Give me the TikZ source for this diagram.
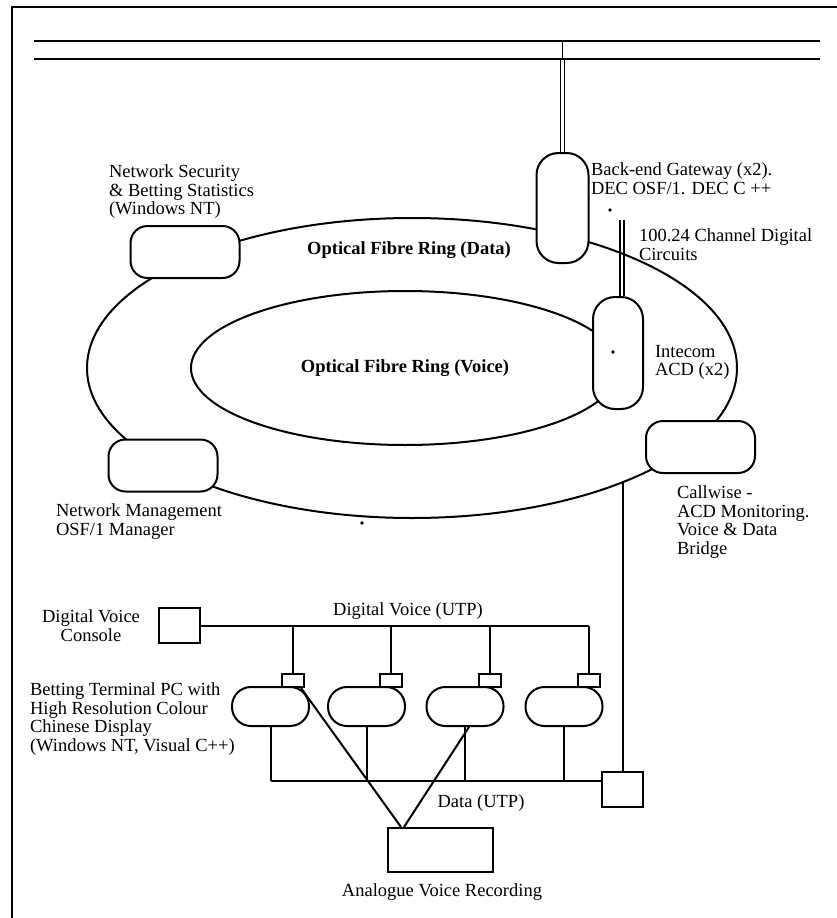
\documentclass[tikz,border=0pt]{standalone}
\usepackage{fontspec}
\setmainfont{Liberation Serif}
\usetikzlibrary{shapes.geometric}
\newcommand{\lblsize}{\fontsize{18.5}{18.5}\selectfont}
\tikzset{
  ring/.style={draw, ellipse, inner sep=0pt},
  tallbox/.style={draw, fill=white, rounded corners=22pt, minimum width=52pt, minimum height=110pt},
  ringbox/.style={draw, fill=white, rounded corners=17pt, minimum width=109pt, minimum height=52pt},
  term/.style={draw, fill=white, rounded corners=19pt, minimum width=77pt, minimum height=39pt},
  plug/.style={draw, fill=white, minimum width=22pt, minimum height=13pt, inner sep=0pt},
  unit/.style={draw, fill=white, minimum width=41pt, minimum height=35pt, inner sep=0pt},
  lbl/.style={align=left, anchor=north west, inner sep=0pt, font=\lblsize},
  clbl/.style={align=center, anchor=north, inner sep=0pt, font=\lblsize},
  dbl/.style={line width=1.2pt},
  bus/.style={line width=2.6pt}
}
\begin{document}
\begin{tikzpicture}[x=1pt, y=-1pt, line width=2pt]
  \useasboundingbox (0,0) rectangle (837,918);
  \draw[bus] (12,918) -- (12,7) -- (837,7);
  \coordinate (b1w) at (34,41);
  \coordinate (b1e) at (820,41);
  \coordinate (b2w) at (34,59);
  \coordinate (b2e) at (820,59);
  \draw[bus] (b1w) -- (b1e);
  \draw[bus] (b2w) -- (b2e);

  \node[ring, minimum width=650pt, minimum height=300pt] (dataring) at (412,368) {};
  \node[ring, minimum width=428pt, minimum height=154pt, font=\lblsize\bfseries] (voicering) at (405,368) {Optical Fibre Ring (Voice)};
  \node[clbl, font=\lblsize\bfseries] (datalbl) at (409,241) {Optical Fibre Ring (Data)};

  \node[tallbox] (gw) at (562.5,208) {};
  \node[tallbox, minimum width=50pt, minimum height=112pt] (acd) at (618,353) {};
  \node[ringbox] (nsec) at (185,252) {};
  \node[ringbox] (nmgmt) at (163,465.5) {};
  \node[ringbox] (cw) at (700.5,447) {};

  \draw[dbl] (gw.north |- b1w) -- (gw.north |- b2w);
  \draw[dbl] ([xshift=-2pt]gw.north) -- ([xshift=-2pt]gw.north |- b2w);
  \draw[dbl] ([xshift=2pt]gw.north) -- ([xshift=2pt]gw.north |- b2w);
  \coordinate (dc) at (622,220);
  \draw[dbl] ([xshift=2pt]acd.north) -- ([xshift=2pt]acd.north |- dc);
  \draw[dbl] ([xshift=6pt]acd.north) -- ([xshift=6pt]acd.north |- dc);
  \fill (610,210) circle (1.8pt);
  \fill (613,352) circle (1.8pt);
  \fill (362,523) circle (1.8pt);

  \node[lbl] (nseclbl) at (108,164) {Network Security\\\& Betting Statistics\\(Windows NT)};
  \node[lbl] (gwlbl) at (590,162) {Back-end Gateway (x2).\\DEC OSF/1. DEC C ++};
  \node[lbl] (cctlbl) at (638,228) {100.24 Channel Digital\\Circuits};
  \node[lbl] (acdlbl) at (654,344) {Intecom\\ACD (x2)};
  \node[lbl] (nmgmtlbl) at (55,503) {Network Management\\OSF/1 Manager};
  \node[lbl] (cwlbl) at (676,485) {Callwise -\\ACD Monitoring.\\Voice \& Data\\Bridge};

  \node[unit] (console) at (179.5,625.5) {};
  \node[clbl] (consolelbl) at (91,609) {Digital Voice\\Console};
  \node[clbl] (dvlbl) at (408,602) {Digital Voice (UTP)};
  \node[lbl] (termlbl) at (29,682) {Betting Terminal PC with\\High Resolution Colour\\Chinese Display\\(Windows NT, Visual C++)};
  \node[unit] (bridge) at (622.5,789.5) {};
  \node[unit, minimum width=105pt, minimum height=44pt] (rec) at (440.5,850) {};
  \node[clbl] (datlbl) at (481,794) {Data (UTP)};
  \node[clbl] (reclbl) at (442,883) {Analogue Voice Recording};

  \coordinate (dbus) at (273,781);
  \foreach \x/\p [count=\i] in {270.5/293, 366.5/391, 465/490, 564/589} {
    \node[term] (t\i) at (\x,706.5) {};
    \node[plug] (p\i) at (\p,680.5) {};
    \draw (p\i.north) -- (p\i.north |- console.east);
    \draw (t\i.south) -- (t\i.south |- dbus);
  }
  \draw (console.east) -- (p4.north |- console.east);
  \draw (t1.south |- dbus) -- (bridge.west |- dbus);
  \draw (bridge.north) -- (bridge.north |- 0,482);
  \draw ([xshift=-4pt]p1.south east) -- ([xshift=14pt]rec.north west);
  \draw ([xshift=4pt]t3.south) -- ([xshift=17pt]rec.north west);
\end{tikzpicture}
\end{document}
